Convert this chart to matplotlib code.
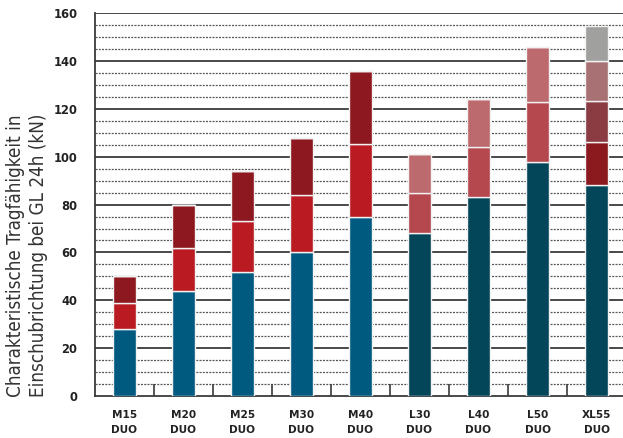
import matplotlib
matplotlib.use("Agg")
import matplotlib.pyplot as plt
import numpy as np

categories = ["M15\nDUO", "M20\nDUO", "M25\nDUO", "M30\nDUO", "M40\nDUO",
              "L30\nDUO", "L40\nDUO", "L50\nDUO", "XL55\nDUO"]
seg1 = [28, 44, 52, 60, 75, 68, 83, 98, 88]
seg2 = [11, 18, 21, 24, 30.5, 17, 21, 25, 18]
seg3 = [11, 18, 21, 24, 30.5, 16, 20, 23, 17.5]
seg4 = [0, 0, 0, 0, 0, 0, 0, 0, 16.5]
seg5 = [0, 0, 0, 0, 0, 0, 0, 0, 14.5]
y_ticks = [0, 20, 40, 60, 80, 100, 120, 140, 160]

M_cols = ["#005A80", "#BA1B22", "#8E1820"]
L_cols = ["#03465A", "#B5474F", "#BC6A6D"]
XL_cols = ["#03465A", "#8A1A1E", "#8A3C42", "#A87173", "#A0A09F"]
col_sets = [M_cols] * 5 + [L_cols] * 3 + [XL_cols]

fig = plt.figure(figsize=(6.23, 4.38), dpi=100)
ax = fig.add_axes([0.152, 0.0959, 0.853, 0.874])

x = np.arange(len(categories))
segs = [seg1, seg2, seg3, seg4, seg5]
bottom = np.zeros(len(categories))
for level, seg in enumerate(segs):
    vals = np.array(seg, dtype=float)
    cols = [cs[level] if level < len(cs) else "none" for cs in col_sets]
    ax.bar(x, vals, bottom=bottom, width=0.39, color=cols,
           edgecolor="#f2f2f2", linewidth=1.0, zorder=3)
    bottom += vals

ax.set_xlim(-0.5, len(categories) - 0.5)
ax.set_ylim(0, 160)

# gridlines
for v in np.arange(5, 160, 5):
    if v % 20 == 0:
        continue
    ax.axhline(v, color="#555555", lw=0.9, ls=(0, (1.6, 1.0)), zorder=1)
for v in range(20, 161, 20):
    ax.axhline(v, color="#3a3a3a", lw=1.3, zorder=1)

for s in ["top", "right"]:
    ax.spines[s].set_visible(False)
for s in ["left", "bottom"]:
    ax.spines[s].set_color("#3a3a3a")
    ax.spines[s].set_linewidth(1.3)

ax.set_yticks(y_ticks)
ax.set_yticklabels([str(t) for t in y_ticks], fontsize=8.3, fontweight="bold", color="#222222")
ax.tick_params(axis="y", length=0, pad=12.5)

ax.set_xticks(x)
ax.set_xticklabels(categories, fontsize=7.6, fontweight="bold", color="#222222", linespacing=1.7)
ax.tick_params(axis="x", which="major", length=0, pad=10)
ax.set_xticks(np.arange(0.5, len(categories) - 0.5, 1), minor=True)
ax.tick_params(axis="x", which="minor", direction="in", length=9, width=1.2, color="#3a3a3a")

ax.set_ylabel("Charakteristische Tragfähigkeit in\nEinschubrichtung bei GL 24h (kN)",
              fontsize=13.5, color="#333333", linespacing=1.3,
              family="DejaVu Sans", fontstretch="condensed")
ax.yaxis.set_label_coords(-0.0876, 0.367)

fig.savefig("out.png", dpi=100)
